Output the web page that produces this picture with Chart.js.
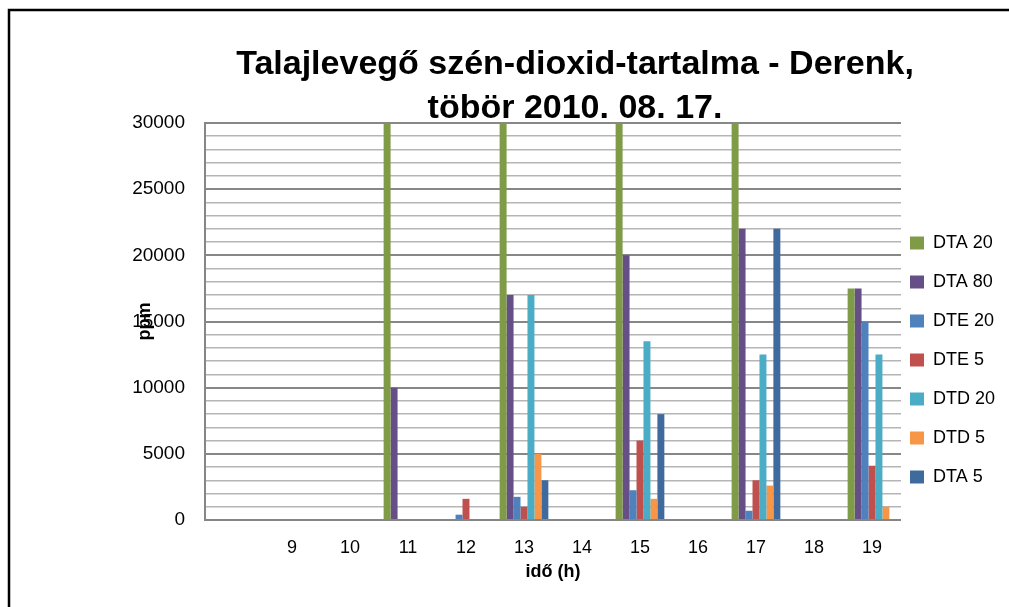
<!DOCTYPE html>
<html>
<head>
<meta charset="utf-8">
<script src="https://cdn.jsdelivr.net/npm/chart.js@4"></script>
<style>
  html, body { margin: 0; padding: 0; background: #ffffff; }
  #wrap { width: 1009px; height: 607px; }
</style>
</head>
<body>
<div id="wrap"><canvas id="c" width="1009" height="607"></canvas></div>
<script>
// ---- data ----
const categories = ['', '9', '10', '11', '12', '13', '14', '15', '16', '17', '18', '19'];
const seriesNames = ['DTA 20', 'DTA 80', 'DTE 20', 'DTE 5', 'DTD 20', 'DTD 5', 'DTA 5'];
const dta20 = [null, null, null, 40000, null, 40000, null, 40000, null, 40000, null, 17500];
const dta80 = [null, null, null, 10000, null, 17000, null, 20000, null, 22000, null, 17500];
const dte20 = [null, null, null, null, 400, 1750, null, 2250, null, 700, null, 15000];
const dte5  = [null, null, null, null, 1600, 1000, null, 6000, null, 3000, null, 4100];
const dtd20 = [null, null, null, null, null, 17000, null, 13500, null, 12500, null, 12500];
const dtd5  = [null, null, null, null, null, 5000, null, 1600, null, 2600, null, 1000];
const dta5  = [null, null, null, null, null, 3000, null, 8000, null, 22000, null, null];
const titleLines = ['Talajlevegő szén-dioxid-tartalma - Derenk,', 'töbör 2010. 08. 17.'];
const xTitle = 'idő (h)';
const yTitle = 'ppm';
const yMin = 0, yMax = 30000, yMinorStep = 1000, yMajorStep = 5000;

const colors = ['#7F9B48', '#664F86', '#4F81BD', '#C0504D', '#4BACC6', '#F79646', '#3F6A9D'];
const seriesData = [dta20, dta80, dte20, dte5, dtd20, dtd5, dta5];

const FONT = "'Liberation Sans', Arial, sans-serif";

const frame = {
  id: 'frame',
  afterLayout(chart) {
    // nudge title and legend boxes to match the original placement
    if (chart.titleBlock) { chart.titleBlock.left += 22; chart.titleBlock.right += 22; }
    if (chart.legend) { chart.legend.left -= 4; }
  },
  beforeDraw(chart) {
    const ctx = chart.ctx;
    ctx.save();
    ctx.fillStyle = '#ffffff';
    ctx.fillRect(0, 0, chart.width, chart.height);
    ctx.strokeStyle = '#000000';
    ctx.lineWidth = 2.5;
    ctx.beginPath();
    ctx.moveTo(9, chart.height);
    ctx.lineTo(9, 10);
    ctx.lineTo(chart.width, 10);
    ctx.stroke();
    ctx.restore();
  }
};

new Chart(document.getElementById('c'), {
  type: 'bar',
  data: {
    labels: categories,
    datasets: seriesNames.map((n, i) => ({
      label: n,
      data: seriesData[i],
      backgroundColor: colors[i],
      borderWidth: 0,
      categoryPercentage: 0.84,
      barPercentage: 1.0
    }))
  },
  options: {
    responsive: false,
    animation: false,
    devicePixelRatio: 1,
    layout: { padding: 0 },
    plugins: {
      tooltip: { enabled: false },
      title: {
        display: true,
        fullSize: false,
        text: titleLines,
        color: '#000000',
        font: { family: "'Liberation Sans', Arial, sans-serif", size: 34, weight: 'bold', lineHeight: '44px' },
        padding: { top: 43, bottom: -8 }
      },
      legend: {
        position: 'right',
        align: 'start',
        fullSize: false,
        maxWidth: 109,
        title: { display: true, text: ' ', padding: 0, font: { size: 10, lineHeight: '98px' } },
        labels: {
          color: '#000000',
          font: { family: FONT, size: 18, lineHeight: '26px' },
          boxWidth: 14,
          boxHeight: 13,
          padding: 13,
          generateLabels(chart) {
            const items = Chart.defaults.plugins.legend.labels.generateLabels(chart);
            items.forEach(it => { it.text = [it.text]; it.lineWidth = 0; it.strokeStyle = it.fillStyle; });
            return items;
          }
        }
      }
    },
    scales: {
      x: {
        type: 'category',
        offset: true,
        grid: { display: false, drawTicks: false },
        border: { display: true, color: '#868686', width: 2 },
        ticks: { color: '#000000', font: { family: FONT, size: 18 }, padding: 17, autoSkip: false, maxRotation: 0 },
        title: { display: true, text: xTitle, color: '#000000', font: { family: FONT, size: 18, weight: 'bold' }, padding: { top: 0, bottom: 24 } },
        afterFit(scale) { scale.height = 87; }
      },
      y: {
        min: yMin,
        max: yMax,
        grid: {
          drawTicks: false,
          color: (c) => (c.tick && c.tick.value % yMajorStep === 0) ? '#878787' : '#b5b5b5',
          lineWidth: (c) => (c.tick && c.tick.value % yMajorStep === 0) ? 2 : 1.5
        },
        border: { display: true, color: '#868686', width: 2 },
        ticks: {
          stepSize: yMinorStep,
          autoSkip: false,
          color: '#000000',
          font: { family: FONT, size: 19 },
          padding: 20,
          callback: (v) => (v % yMajorStep === 0 ? String(v) : '')
        },
        title: { display: true, text: yTitle, color: '#000000', font: { family: FONT, size: 18, weight: 'bold' }, padding: { top: 134, bottom: 0 } },
        afterFit(scale) { scale.width = 205; }
      }
    }
  },
  plugins: [frame]
});
</script>
</body>
</html>
